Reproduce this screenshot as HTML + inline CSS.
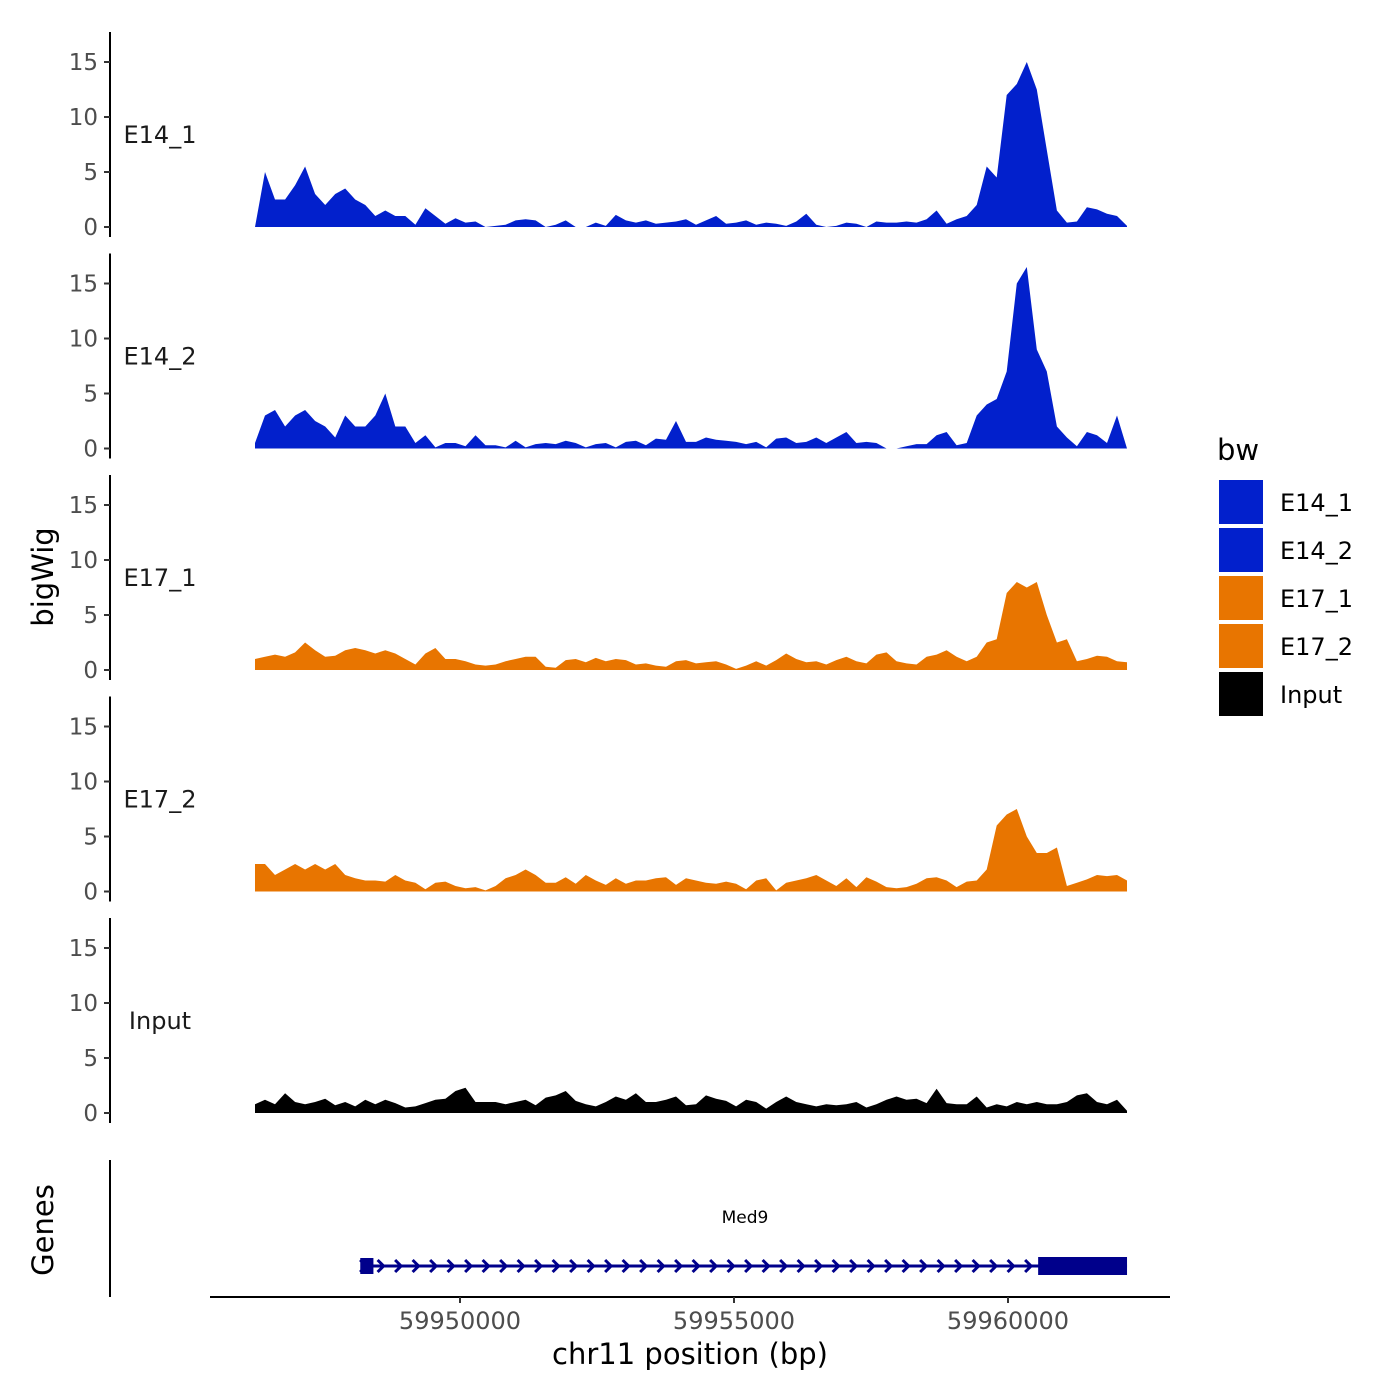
<!DOCTYPE html>
<html><head><meta charset="utf-8"><style>
html,body{margin:0;padding:0;background:#fff;}
svg{display:block;font-family:"DejaVu Sans","Liberation Sans",sans-serif;}
</style></head><body>
<svg id="chart" width="1400" height="1400" viewBox="0 0 1400 1400" xmlns="http://www.w3.org/2000/svg">
<rect width="1400" height="1400" fill="#fff"/>
<g id="tracks"></g>
<g id="genes"></g>
<g id="xaxis"></g>
<text x="53" y="577" font-size="29" text-anchor="middle" transform="rotate(-90 53 577)">bigWig</text>
<text x="53" y="1230" font-size="29" text-anchor="middle" transform="rotate(-90 53 1230)">Genes</text>
<text x="690" y="1364" font-size="29" text-anchor="middle">chr11 position (bp)</text>
<g id="legend"></g>
</svg>
<script>
const trackNames = ["E14_1","E14_2","E17_1","E17_2","Input"];
const trackColors = ["#0220CC","#0220CC","#E87500","#E87500","#000000"];
const startBp = 59946259, endBp = 59962172;
const e14_1 = [0,5,2.5,2.5,3.8,5.5,3,2,3,3.5,2.5,2,1,1.5,1,1,0.2,1.7,1,0.3,0.8,0.4,0.5,0,0.1,0.2,0.6,0.7,0.6,0,0.2,0.6,0,0,0.4,0.1,1.1,0.6,0.4,0.6,0.3,0.4,0.5,0.7,0.2,0.6,1,0.3,0.4,0.6,0.2,0.4,0.3,0.1,0.5,1.2,0.2,0,0.1,0.4,0.3,0,0.5,0.4,0.4,0.5,0.4,0.7,1.5,0.3,0.7,1,2,5.5,4.5,12,13,15,12.5,7,1.5,0.4,0.5,1.8,1.6,1.2,1,0.1];
const e14_2 = [0.5,3,3.5,2,3,3.5,2.5,2,1,3,2,2,3,5,2,2,0.5,1.2,0.1,0.5,0.5,0.2,1.2,0.3,0.3,0.1,0.7,0.1,0.4,0.5,0.4,0.7,0.5,0.1,0.4,0.5,0.1,0.6,0.7,0.3,0.9,0.8,2.5,0.6,0.6,1,0.8,0.7,0.6,0.4,0.6,0.1,0.9,1,0.5,0.6,1,0.5,1,1.5,0.5,0.6,0.5,0,0,0.2,0.4,0.4,1.2,1.5,0.3,0.5,3,4,4.5,7,15,16.5,9,7,2,1,0.2,1.5,1.2,0.5,3,0];
const e17_1 = [1,1.2,1.4,1.2,1.6,2.5,1.8,1.2,1.3,1.8,2,1.8,1.5,1.8,1.5,1,0.5,1.5,2,1,1,0.8,0.5,0.4,0.5,0.8,1,1.2,1.2,0.3,0.2,0.9,1,0.7,1.1,0.8,1,0.9,0.5,0.6,0.4,0.3,0.8,0.9,0.6,0.7,0.8,0.5,0.1,0.4,0.8,0.4,0.9,1.5,1,0.7,0.8,0.5,0.9,1.2,0.8,0.6,1.4,1.6,0.8,0.6,0.5,1.2,1.4,1.8,1.2,0.8,1.2,2.5,2.8,7,8,7.5,8,5,2.5,2.8,0.8,1,1.3,1.2,0.8,0.7];
const e17_2 = [2.5,2.5,1.5,2,2.5,2,2.5,2,2.5,1.5,1.2,1,1,0.9,1.5,1,0.8,0.2,0.8,0.9,0.5,0.3,0.4,0.1,0.5,1.2,1.5,2,1.5,0.8,0.8,1.3,0.7,1.5,1,0.6,1.2,0.7,1,1,1.2,1.3,0.6,1.2,1,0.8,0.7,0.9,0.7,0.2,1,1.2,0.1,0.8,1,1.2,1.5,1,0.5,1.2,0.4,1.3,0.9,0.4,0.3,0.4,0.7,1.2,1.3,1,0.4,0.9,1,2,6,7,7.5,5,3.5,3.5,4,0.5,0.8,1.1,1.5,1.4,1.5,1];
const input = [0.8,1.2,0.8,1.8,1,0.8,1,1.3,0.7,1,0.6,1.2,0.8,1.2,0.9,0.5,0.6,0.9,1.2,1.3,2,2.3,1,1,1,0.8,1,1.2,0.7,1.4,1.6,2,1.1,0.8,0.6,1,1.5,1.2,1.8,1,1,1.2,1.5,0.7,0.8,1.6,1.3,1.1,0.6,1.2,1,0.4,1,1.5,1,0.8,0.6,0.8,0.7,0.8,1,0.5,0.8,1.2,1.5,1.2,1.3,0.9,2.2,0.9,0.8,0.8,1.5,0.5,0.8,0.6,1,0.8,1,0.8,0.8,1,1.6,1.8,1,0.8,1.2,0.2];
const trackValues = [e14_1,e14_2,e17_1,e17_2,input];
const yTicks = [0,5,10,15];
const xTicks = [59950000,59955000,59960000];
const xTickLabels = ["59950000","59955000","59960000"];
const geneName = "Med9";
const geneStart = 59948250, geneEnd = 59962172, cdsStart = 59960550, utrBoxStart = 59948180, utrBoxEnd = 59948420;

const NS="http://www.w3.org/2000/svg";
function mk(tag, attrs, parent){const e=document.createElementNS(NS,tag);for(const k in attrs)e.setAttribute(k,attrs[k]);parent.appendChild(e);return e;}
const xScale = bp => 460 + (bp-59950000)*274/5000;
const zeroY = i => 227 + i*221.5;
const yScale = (v,i) => zeroY(i) - v*11;

const tracks=document.getElementById('tracks');
trackValues.forEach((vals,i)=>{
  const g=mk('g',{},tracks);
  
  
  const n=vals.length;
  let d='M'+xScale(startBp)+','+zeroY(i);
  vals.forEach((v,k)=>{const bp=startBp+(endBp-startBp)*k/(n-1);d+=' L'+xScale(bp).toFixed(1)+','+yScale(v,i).toFixed(1);});
  d+=' L'+xScale(endBp)+','+zeroY(i)+' Z';
  const p=mk('path',{d:d,fill:trackColors[i],'stroke-linejoin':'round'},g);
  
  
  const ax=mk('line',{x1:110,x2:110,y1:zeroY(i)-195,y2:zeroY(i)+10,stroke:'#000','stroke-width':2},g);
  
  
  yTicks.forEach(t=>{
    const y=yScale(t,i);
    const tk=mk('line',{x1:104,x2:110,y1:y,y2:y,stroke:'#333','stroke-width':2},g);
    
    
    const tl=mk('text',{x:98,y:y+8,'font-size':23,'text-anchor':'end',fill:'#4d4d4d'},g);
    tl.textContent=t;
    
    
  });
  const lb=mk('text',{x:160,y:zeroY(i)-84,'font-size':24,'text-anchor':'middle',fill:'#1a1a1a'},g);
  lb.textContent=trackNames[i];
  
  
});

const genes=document.getElementById('genes');
const gy=1266;
let e;
e=mk('line',{x1:110,x2:110,y1:1160,y2:1297,stroke:'#000','stroke-width':2},genes);


e=mk('line',{x1:xScale(geneStart)-2,x2:xScale(geneEnd),y1:gy,y2:gy,stroke:'#00008B','stroke-width':3},genes);


for(let x=xScale(geneStart);x<xScale(cdsStart)-5;x+=17.5){
  const c=mk('polyline',{points:(x-4)+','+(gy-6)+' '+(x+2)+','+gy+' '+(x-4)+','+(gy+6),fill:'none',stroke:'#00008B','stroke-width':3},genes);
  
  
}
e=mk('rect',{x:xScale(utrBoxStart),y:gy-8,width:xScale(utrBoxEnd)-xScale(utrBoxStart),height:16,fill:'#00008B'},genes);


e=mk('rect',{x:xScale(cdsStart),y:gy-9,width:xScale(geneEnd)-xScale(cdsStart),height:18,fill:'#00008B'},genes);


e=mk('text',{x:745,y:1223,'font-size':17,'text-anchor':'middle',fill:'#000'},genes);
e.textContent=geneName;



const xa=document.getElementById('xaxis');
e=mk('line',{x1:210,x2:1170,y1:1297,y2:1297,stroke:'#000','stroke-width':2},xa);


xTicks.forEach((t,k)=>{
  const x=xScale(t);
  const tk=mk('line',{x1:x,x2:x,y1:1297,y2:1303,stroke:'#333','stroke-width':2},xa);
  
  
  const tl=mk('text',{x:x,y:1329,'font-size':24,'text-anchor':'middle',fill:'#4d4d4d'},xa);
  tl.textContent=xTickLabels[k];
  
  
});

const lg=document.getElementById('legend');
e=mk('text',{x:1217,y:460,'font-size':29,fill:'#000'},lg);
e.textContent='bw';


trackNames.forEach((n,k)=>{
  const y=480+k*48;
  const r=mk('rect',{x:1219,y:y,width:44,height:44,fill:trackColors[k]},lg);
  
  
  const t=mk('text',{x:1280,y:y+31,'font-size':24,fill:'#000'},lg);
  t.textContent=n;
  
  
});
</script>
</body></html>
